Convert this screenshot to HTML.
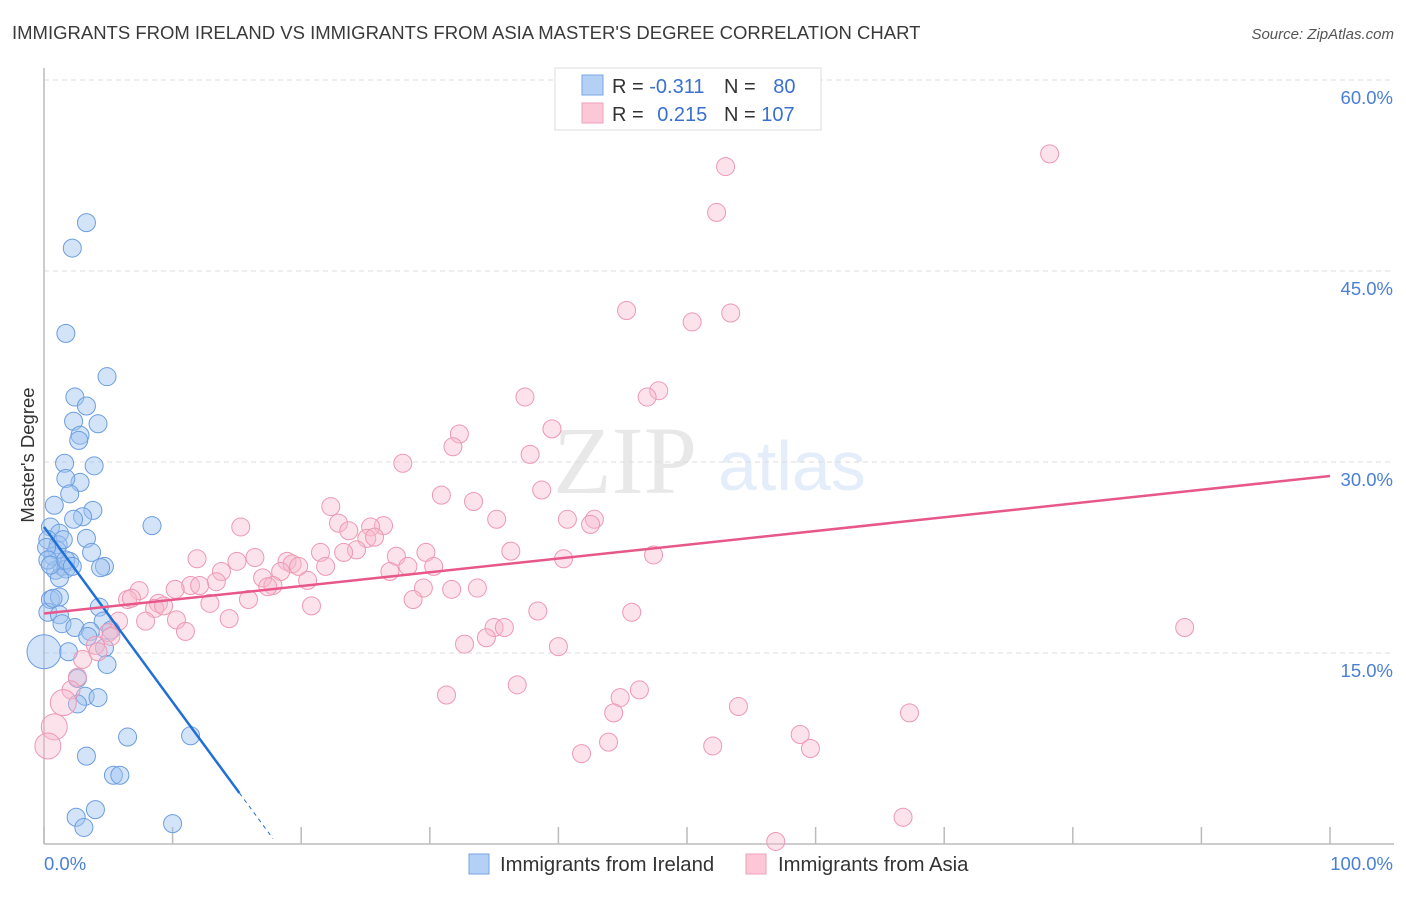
<!DOCTYPE html>
<html><head><meta charset="utf-8"><style>
body{margin:0;background:#fff;font-family:"Liberation Sans",sans-serif;}
svg text{font-family:"Liberation Sans",sans-serif;}
</style></head><body>
<svg id="chart" width="1406" height="892" xmlns="http://www.w3.org/2000/svg">
<text x="12" y="39" font-size="18.5" fill="#3a3a3a">IMMIGRANTS FROM IRELAND VS IMMIGRANTS FROM ASIA MASTER'S DEGREE CORRELATION CHART</text>
<text x="1394" y="39" font-size="15" fill="#555" text-anchor="end" font-style="italic">Source: ZipAtlas.com</text>
<g opacity="0.13">
<text x="553" y="493" font-size="96" font-family="Liberation Serif" fill="#555" style="font-family:'Liberation Serif',serif">ZIP</text>
<text x="718" y="490" font-size="70" fill="#3b7ddd">atlas</text>
</g>
<g id="grid"></g>
<g id="axes"></g>
<g id="pts"></g>
<g id="trends"></g>
<text transform="translate(34,455) rotate(-90)" font-size="18.5" fill="#333" text-anchor="middle">Master's Degree</text>
<text x="44" y="870" font-size="18.5" fill="#4a7fd6">0.0%</text>
<text x="1393" y="870" font-size="18.5" fill="#4a7fd6" text-anchor="end">100.0%</text>
<g>
<rect x="555" y="68" width="266" height="62" fill="#fff" stroke="#ddd"/>
<rect x="582" y="75" width="21" height="20" fill="#b5d0f5" stroke="#7aa6e6"/>
<rect x="582" y="103" width="21" height="20" fill="#fcc8d7" stroke="#eea0b8"/>
<text x="612" y="93" font-size="20" fill="#333">R = <tspan fill="#3a70d0">-0.311</tspan></text>
<text x="724" y="93" font-size="20" fill="#333">N = <tspan fill="#3a70d0" dx="12">80</tspan></text>
<text x="612" y="121" font-size="20" fill="#333">R = <tspan fill="#3a70d0" dx="8">0.215</tspan></text>
<text x="724" y="121" font-size="20" fill="#333">N = <tspan fill="#3a70d0">107</tspan></text>
</g>
<g>
<rect x="469" y="854" width="20" height="20" fill="#b5d0f5" stroke="#7aa6e6"/>
<text x="500" y="871" font-size="20.3" fill="#333">Immigrants from Ireland</text>
<rect x="746" y="854" width="20" height="20" fill="#fcc8d7" stroke="#eea0b8"/>
<text x="778" y="871" font-size="20.3" fill="#333">Immigrants from Asia</text>
</g>
</svg>
<script>
const yTicks=[15,30,45,60];
const yTickLabels=["15.0%","30.0%","45.0%","60.0%"];
const xTicks=[0,10,20,30,40,50,60,70,80,90,100];
const irelandX=[3.3,2.2,1.7,4.9,2.4,3.3,2.3,4.2,2.8,2.7,1.6,3.9,2.8,1.7,2.0,0.8,3.8,3.0,2.3,8.4,0.5,1.2,3.3,0.3,1.1,3.7,0.7,2.0,1.4,4.7,4.4,0.9,1.7,1.2,0.5,1.2,4.3,0.3,1.2,1.4,4.6,2.4,3.6,3.4,5.2,4.7,1.9,0,4.9,2.6,3.2,4.2,2.6,6.5,11.4,3.3,5.4,5.9,4.0,2.5,3.1,10.0,0.7,1.0,0.2,1.5,0.3,0.5,1.7,2.2];
const irelandY=[48.8,46.8,40.1,36.7,35.1,34.4,33.2,33.0,32.1,31.7,29.9,29.7,28.4,28.7,27.5,26.6,26.2,25.7,25.5,25.0,24.9,24.4,24.0,23.9,23.5,22.9,22.6,22.2,21.8,21.8,21.7,21.5,21.6,20.9,19.2,19.4,18.6,18.2,18.0,17.3,17.5,17.0,16.7,16.3,16.8,15.4,15.1,15.1,14.1,13.0,11.6,11.5,11.0,8.4,8.5,6.9,5.4,5.4,2.7,2.1,1.3,1.6,19.3,23.1,23.3,23.9,22.3,21.9,22.3,21.8];
const asiaX=[78.2,53.0,52.3,45.3,50.4,53.4,47.8,46.9,37.4,32.3,39.5,31.8,37.8,27.9,38.7,30.9,33.4,22.3,35.2,40.7,42.8,42.5,22.9,15.3,23.7,26.4,25.4,25.1,25.7,24.3,23.3,21.5,36.3,29.7,27.4,40.4,47.4,11.9,16.4,15.0,18.9,19.3,19.8,28.3,30.3,21.9,26.9,18.4,17.0,13.8,20.5,13.4,11.4,12.1,10.2,17.8,17.4,31.7,29.5,7.4,6.5,6.8,15.9,28.7,33.7,12.9,20.8,8.9,8.6,9.3,38.4,45.7,14.4,10.3,7.9,5.8,11.0,35.0,35.8,34.4,32.7,40.0,5.0,5.2,4.0,3.0,4.2,88.7,2.6,2.1,36.8,46.3,31.3,44.8,54.0,44.3,67.3,1.5,0.8,0.3,43.9,41.8,52.0,58.8,59.6,66.8,56.9];
const asiaY=[54.2,53.2,49.6,41.9,41.0,41.7,35.6,35.1,35.1,32.2,32.6,31.2,30.6,29.9,27.8,27.4,26.9,26.5,25.5,25.5,25.5,25.1,25.2,24.9,24.6,25.0,24.9,24.0,24.1,23.1,22.9,22.9,23.0,22.9,22.6,22.4,22.7,22.4,22.5,22.2,22.2,22.0,21.8,21.8,21.8,21.8,21.4,21.4,20.9,21.4,20.7,20.6,20.3,20.3,20.0,20.3,20.2,20.0,20.1,19.9,19.2,19.3,19.2,19.2,20.1,18.9,18.7,18.9,18.5,18.7,18.3,18.2,17.7,17.6,17.5,17.5,16.7,17.0,17.0,16.2,15.7,15.5,16.6,16.3,15.6,14.5,15.1,17.0,13.1,12.1,12.5,12.1,11.7,11.5,10.8,10.3,10.3,11.1,9.2,7.7,8.0,7.1,7.7,8.6,7.5,2.1,0.2];
const irelandTrend=[24.9,-1.375]; // intercept, slope
const irelandTrendEnd=[15.2,17.8]; // solid end, dashed end (x)
const asiaTrend=[18.1,0.108];

const NS="http://www.w3.org/2000/svg";
const X0=44,X1=1330,Y0=844,Y60=80;
function sx(v){return X0+(X1-X0)*v/100;}
function sy(v){return Y0-(Y0-Y60)*v/60;}
function mk(t,a,parent){const e=document.createElementNS(NS,t);for(const k in a)e.setAttribute(k,a[k]);parent.appendChild(e);return e;}
const grid=document.getElementById('grid'),axes=document.getElementById('axes'),pts=document.getElementById('pts'),tr=document.getElementById('trends');
yTicks.forEach((t,i)=>{
 const l=mk('line',{x1:X0,x2:1394,y1:sy(t),y2:sy(t),stroke:'#dcdcdc','stroke-dasharray':'5,4'},grid);
 
 
 const tx=mk('text',{x:1393,y:sy(t)+24,'font-size':18.5,fill:'#4a7fd6','text-anchor':'end'},axes);
 tx.textContent=yTickLabels[i];
 
 
});
const ya=mk('line',{x1:X0,x2:X0,y1:68,y2:Y0,stroke:'#bbb','stroke-width':1.5},axes);


const xa=mk('line',{x1:X0,x2:1394,y1:Y0,y2:Y0,stroke:'#bbb','stroke-width':1.5},axes);


xTicks.forEach(t=>{
 const l=mk('line',{x1:sx(t),x2:sx(t),y1:827,y2:Y0,stroke:'#bbb','stroke-width':1.5},axes);
 
 
});
irelandX.forEach((x,i)=>{
 const big=(x===0&&irelandY[i]>14&&irelandY[i]<16);
 const c=mk('circle',{cx:sx(x),cy:sy(irelandY[i]),r:big?17:9,fill:'rgba(160,195,240,0.45)',stroke:'#6b9de0','stroke-width':1},pts);
 
 
});
asiaX.forEach((x,i)=>{
 const big=(x<2&&asiaY[i]<12);
 const c=mk('circle',{cx:sx(x),cy:sy(asiaY[i]),r:big?13:9,fill:'rgba(248,185,205,0.4)',stroke:'#ee98b3','stroke-width':1},pts);
 
 
});
const f=(tr0,x)=>tr0[0]+tr0[1]*x;
const bl=mk('line',{x1:sx(0),y1:sy(f(irelandTrend,0)),x2:sx(irelandTrendEnd[0]),y2:sy(f(irelandTrend,irelandTrendEnd[0])),stroke:'#1f6fd6','stroke-width':2.5},tr);


const bd=mk('line',{x1:sx(irelandTrendEnd[0]),y1:sy(f(irelandTrend,irelandTrendEnd[0])),x2:sx(irelandTrendEnd[1]),y2:sy(f(irelandTrend,irelandTrendEnd[1])),stroke:'#1f6fd6','stroke-width':1,'stroke-dasharray':'4,4'},tr);


const pl=mk('line',{x1:sx(0),y1:sy(f(asiaTrend,0)),x2:sx(100),y2:sy(f(asiaTrend,100)),stroke:'#e8578a','stroke-width':2.5},tr);


</script>
</body></html>
